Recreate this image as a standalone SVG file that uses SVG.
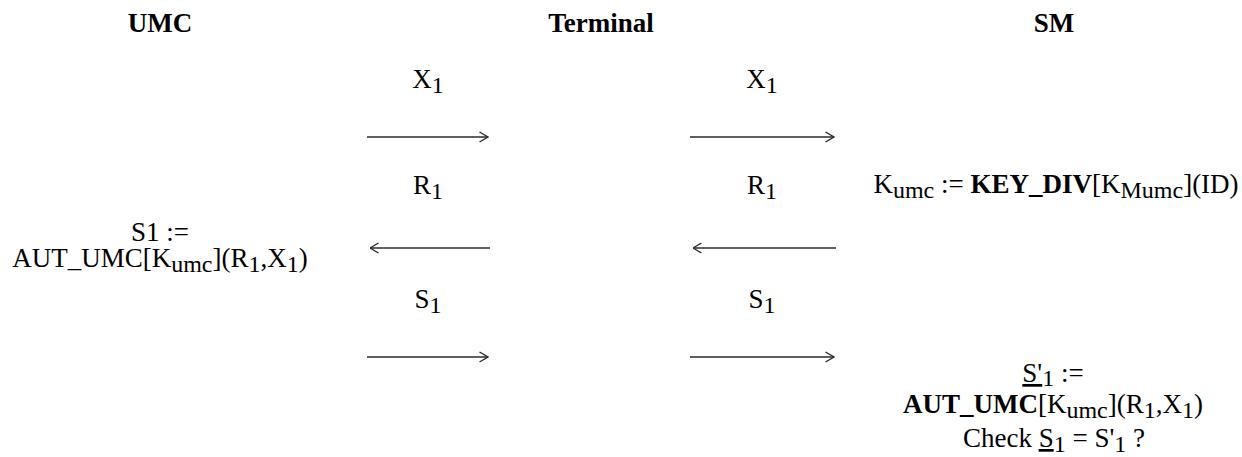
<svg xmlns="http://www.w3.org/2000/svg" width="1242" height="457" viewBox="0 0 1242 457">
<style>
text{font-family:"Liberation Serif","Times New Roman",serif;font-size:27px;fill:#000;text-anchor:middle}
.h{font-weight:bold}
.s{font-size:24px}
.b{font-weight:bold}
.u{text-decoration:underline}
.c{stroke:#2a2a2a;stroke-width:1.4;fill:none}
</style>
<defs>
<marker id="ah" viewBox="0 0 10 12" refX="9.5" refY="6" markerWidth="10" markerHeight="12" markerUnits="userSpaceOnUse" orient="auto-start-reverse">
<path d="M1,1 L9.5,6 L1,11" fill="none" stroke="#2a2a2a" stroke-width="1.4"/>
</marker>
</defs>
<rect width="1242" height="457" fill="#fff"/>
<g id="umc">
<text class="h" x="160" y="32">UMC</text>
<text x="160" y="241">S1 :=</text>
<text x="160" y="267">AUT_UMC[K<tspan class="s" dy="5">umc</tspan><tspan dy="-5">](R</tspan><tspan class="s" dy="5">1</tspan><tspan dy="-5">,X</tspan><tspan class="s" dy="5">1</tspan><tspan dy="-5">)</tspan></text>
</g>
<g id="terminal">
<text class="h" x="601" y="32">Terminal</text>
</g>
<g id="sm">
<text class="h" x="1054" y="32">SM</text>
<text x="1056" y="193">K<tspan class="s" dy="5">umc</tspan><tspan dy="-5"> := </tspan><tspan class="b">KEY_DIV</tspan>[K<tspan class="s" dy="5">Mumc</tspan><tspan dy="-5">](ID)</tspan></text>
<text x="1053" y="382"><tspan class="u">S'</tspan><tspan class="s" dy="4">1</tspan><tspan dy="-4"> :=</tspan></text>
<text x="1053" y="413"><tspan class="b">AUT_UMC</tspan>[K<tspan class="s" dy="5">umc</tspan><tspan dy="-5">](R</tspan><tspan class="s" dy="5">1</tspan><tspan dy="-5">,X</tspan><tspan class="s" dy="5">1</tspan><tspan dy="-5">)</tspan></text>
<text x="1054" y="447">Check <tspan class="u">S</tspan><tspan class="s" dy="5">1</tspan><tspan dy="-5"> = S'</tspan><tspan class="s" dy="5">1</tspan><tspan dy="-5"> ?</tspan></text>
</g>
<g id="labels">
<text x="428" y="88">X<tspan class="s" dy="5">1</tspan></text>
<text x="762" y="88">X<tspan class="s" dy="5">1</tspan></text>
<text x="428" y="194">R<tspan class="s" dy="5">1</tspan></text>
<text x="762" y="194">R<tspan class="s" dy="5">1</tspan></text>
<text x="428" y="308">S<tspan class="s" dy="5">1</tspan></text>
<text x="762" y="308">S<tspan class="s" dy="5">1</tspan></text>
</g>
<g id="connectors">
<line class="c" x1="367" y1="137" x2="488" y2="137" marker-end="url(#ah)"/>
<line class="c" x1="690" y1="137" x2="834" y2="137" marker-end="url(#ah)"/>
<line class="c" x1="370" y1="248" x2="490" y2="248" marker-start="url(#ah)"/>
<line class="c" x1="693" y1="248" x2="836" y2="248" marker-start="url(#ah)"/>
<line class="c" x1="367" y1="357" x2="488" y2="357" marker-end="url(#ah)"/>
<line class="c" x1="690" y1="357" x2="834" y2="357" marker-end="url(#ah)"/>
</g>
</svg>
